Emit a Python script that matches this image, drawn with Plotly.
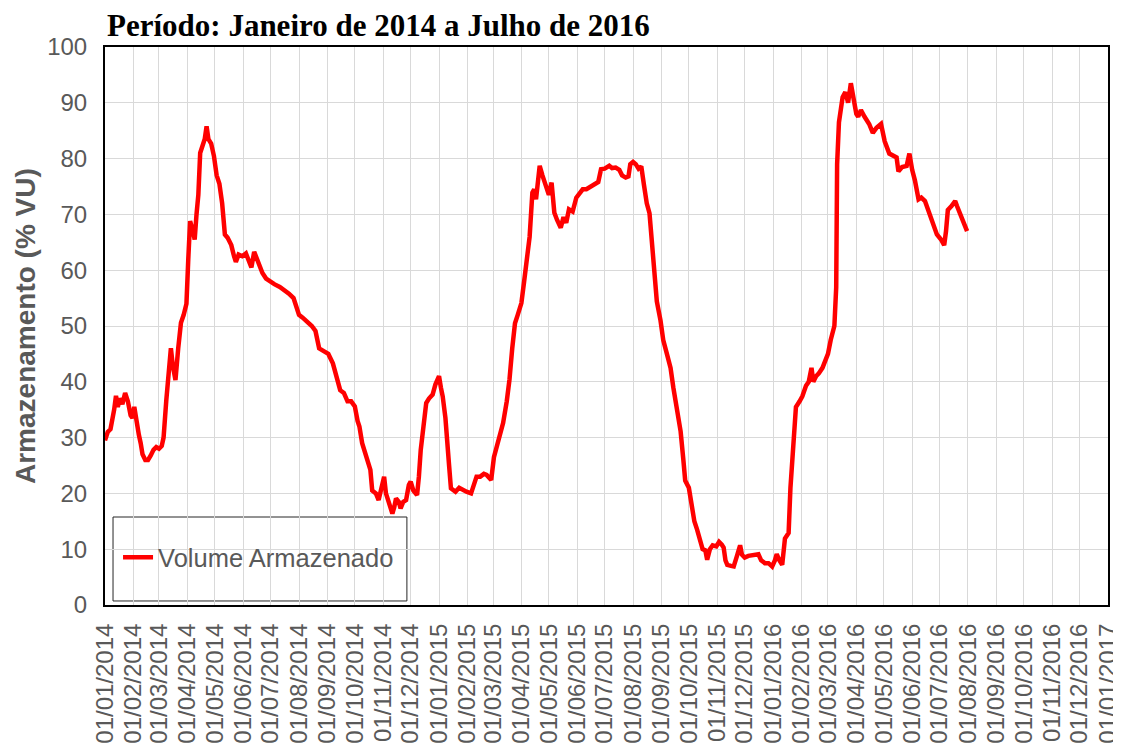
import plotly.graph_objects as go

# ---- data ----
dates = [
    "2014-01-01", "2014-01-04", "2014-01-07", "2014-01-09", "2014-01-11", "2014-01-13", "2014-01-15",
    "2014-01-17", "2014-01-20", "2014-01-23", "2014-01-26", "2014-01-29", "2014-01-31", "2014-02-02",
    "2014-02-04", "2014-02-07", "2014-02-09", "2014-02-11", "2014-02-14", "2014-02-17", "2014-02-20",
    "2014-02-23", "2014-02-26", "2014-03-01", "2014-03-04", "2014-03-06", "2014-03-09", "2014-03-12",
    "2014-03-14", "2014-03-16", "2014-03-19", "2014-03-22", "2014-03-25", "2014-03-28", "2014-03-31",
    "2014-04-02", "2014-04-04", "2014-04-07", "2014-04-09", "2014-04-11", "2014-04-13", "2014-04-15",
    "2014-04-18", "2014-04-20", "2014-04-22", "2014-04-24", "2014-04-27", "2014-04-30", "2014-05-03",
    "2014-05-06", "2014-05-09", "2014-05-12", "2014-05-15", "2014-05-19", "2014-05-22", "2014-05-24",
    "2014-05-27", "2014-05-31", "2014-06-04", "2014-06-08", "2014-06-10", "2014-06-13", "2014-06-16",
    "2014-06-19", "2014-06-22", "2014-06-26", "2014-06-30", "2014-07-05", "2014-07-11", "2014-07-16",
    "2014-07-21", "2014-07-26", "2014-08-01", "2014-08-05", "2014-08-10", "2014-08-15", "2014-08-19",
    "2014-08-23", "2014-08-28", "2014-09-02", "2014-09-07", "2014-09-11", "2014-09-15", "2014-09-19",
    "2014-09-23", "2014-09-27", "2014-10-01", "2014-10-04", "2014-10-06", "2014-10-09", "2014-10-11",
    "2014-10-15", "2014-10-18", "2014-10-20", "2014-10-24", "2014-10-27", "2014-10-30", "2014-11-02",
    "2014-11-04", "2014-11-08", "2014-11-11", "2014-11-13", "2014-11-15", "2014-11-18", "2014-11-20",
    "2014-11-23", "2014-11-26", "2014-11-29", "2014-12-01", "2014-12-04", "2014-12-08", "2014-12-10",
    "2014-12-12", "2014-12-15", "2014-12-18", "2014-12-21", "2014-12-25", "2014-12-28",
    "2015-01-01", "2015-01-03", "2015-01-05", "2015-01-08", "2015-01-10", "2015-01-12", "2015-01-14",
    "2015-01-17", "2015-01-19", "2015-01-23", "2015-01-27", "2015-01-31", "2015-02-05", "2015-02-08",
    "2015-02-11", "2015-02-15", "2015-02-19", "2015-02-22", "2015-02-27", "2015-03-02", "2015-03-05",
    "2015-03-09", "2015-03-12", "2015-03-16", "2015-03-19", "2015-03-22", "2015-03-25", "2015-03-28",
    "2015-04-01", "2015-04-04", "2015-04-08", "2015-04-10", "2015-04-13", "2015-04-15", "2015-04-17",
    "2015-04-19", "2015-04-21", "2015-04-24", "2015-04-28", "2015-05-01", "2015-05-04", "2015-05-07",
    "2015-05-10", "2015-05-14", "2015-05-17", "2015-05-20", "2015-05-23", "2015-05-27", "2015-05-31",
    "2015-06-03", "2015-06-07", "2015-06-11", "2015-06-16", "2015-06-21", "2015-06-24", "2015-06-27",
    "2015-07-01", "2015-07-06", "2015-07-09", "2015-07-13", "2015-07-17", "2015-07-20", "2015-07-24",
    "2015-07-27", "2015-07-29", "2015-08-01", "2015-08-04", "2015-08-07", "2015-08-10", "2015-08-13",
    "2015-08-16", "2015-08-19", "2015-08-22", "2015-08-25", "2015-08-27", "2015-08-31", "2015-09-03",
    "2015-09-07", "2015-09-11", "2015-09-14", "2015-09-16", "2015-09-19", "2015-09-22", "2015-09-25",
    "2015-09-27", "2015-10-01", "2015-10-05", "2015-10-07", "2015-10-10", "2015-10-13", "2015-10-16",
    "2015-10-19", "2015-10-21", "2015-10-24", "2015-10-27", "2015-10-31", "2015-11-03", "2015-11-06",
    "2015-11-08", "2015-11-10", "2015-11-12", "2015-11-16", "2015-11-19", "2015-11-22", "2015-11-26",
    "2015-11-28", "2015-12-01", "2015-12-05", "2015-12-10", "2015-12-16", "2015-12-19", "2015-12-23",
    "2015-12-27", "2015-12-31",
    "2016-01-03", "2016-01-05", "2016-01-08", "2016-01-11", "2016-01-14", "2016-01-18", "2016-01-20",
    "2016-01-23", "2016-01-26", "2016-01-30", "2016-02-02", "2016-02-06", "2016-02-09", "2016-02-12",
    "2016-02-14", "2016-02-17", "2016-02-20", "2016-02-24", "2016-02-27", "2016-03-01", "2016-03-04",
    "2016-03-08", "2016-03-10", "2016-03-11", "2016-03-13", "2016-03-15", "2016-03-17", "2016-03-20",
    "2016-03-23", "2016-03-26", "2016-03-30", "2016-04-01", "2016-04-03", "2016-04-06", "2016-04-10",
    "2016-04-15", "2016-04-19", "2016-04-23", "2016-04-28", "2016-05-02", "2016-05-07", "2016-05-11",
    "2016-05-15", "2016-05-17", "2016-05-21", "2016-05-26", "2016-05-29", "2016-06-01", "2016-06-04",
    "2016-06-08", "2016-06-11", "2016-06-15", "2016-06-18", "2016-06-21", "2016-06-25", "2016-06-28",
    "2016-07-03", "2016-07-06", "2016-07-08", "2016-07-10", "2016-07-14", "2016-07-18", "2016-07-20",
    "2016-07-23", "2016-07-27", "2016-07-31",
]

volume = [
    29.5, 31.0, 31.5, 33.0, 35.0, 37.5, 35.5,
    37.0, 36.0, 38.0, 36.5, 34.0, 33.5, 35.5,
    33.0, 30.5, 29.0, 27.0, 26.0, 26.0, 26.8,
    27.8, 28.3, 28.0, 28.5, 30.0, 36.7, 43.0,
    46.0, 43.0, 40.3, 46.0, 50.6, 52.0, 54.0,
    62.0, 68.8, 67.0, 65.5, 70.0, 73.5, 81.0,
    83.0, 83.5, 85.8, 83.5, 82.7, 80.5, 77.0,
    75.5, 72.0, 66.4, 65.8, 64.5, 62.5, 61.5,
    62.8, 62.5, 63.0, 61.0, 60.5, 63.3, 62.0,
    60.5, 59.5, 58.5, 58.0, 57.5, 57.0, 56.5,
    55.8, 55.0, 52.0, 51.5, 50.8, 50.0, 49.1,
    46.0, 45.5, 45.0, 43.3, 41.0, 38.5, 38.0,
    36.5, 36.5, 35.6, 33.0, 32.0, 29.0, 27.8,
    25.5, 24.2, 20.5, 20.0, 18.8, 21.0, 23.0,
    20.0, 18.0, 16.4, 17.5, 19.1, 18.5, 17.3,
    18.5, 18.8, 21.5, 22.1, 20.5, 19.7, 23.0,
    27.8, 32.0, 36.2, 37.0, 37.7, 39.5,
    41.0, 39.0, 37.4, 33.5, 30.2, 25.0, 20.9,
    20.5, 20.3, 21.0, 20.6, 20.3, 20.0, 21.5,
    23.0, 23.0, 23.5, 23.3, 22.4, 26.5, 28.4,
    30.5, 32.6, 36.5, 40.4, 46.0, 50.5, 52.0,
    54.1, 58.0, 62.5, 66.0, 73.9, 74.5, 72.7,
    76.0, 78.7, 77.0, 75.1, 73.5, 75.7, 70.3,
    69.0, 67.6, 69.5, 68.5, 70.9, 70.5, 73.0,
    73.8, 74.5, 74.5, 75.0, 75.4, 75.8, 78.1,
    78.2, 78.7, 78.3, 78.4, 78.0, 77.0, 76.6,
    76.8, 79.0, 79.4, 79.0, 78.2, 78.6, 75.2,
    72.0, 70.2, 63.2, 57.5, 54.4, 51.0, 47.5,
    45.0, 42.5, 39.0, 36.8, 34.0, 31.1, 26.0,
    22.3, 21.0, 17.3, 15.0, 13.5, 12.0, 10.0,
    9.8, 8.1, 10.0, 10.7, 10.5, 11.3, 10.8,
    10.3, 8.0, 7.2, 7.0, 6.9, 8.5, 10.7,
    9.0, 8.5, 8.8, 9.0, 9.1, 8.0, 7.5,
    7.5, 6.9,
    8.0, 9.1, 8.0, 7.2, 11.9, 12.9, 21.0,
    28.0, 35.5, 36.5, 37.4, 39.3, 40.0, 42.5,
    40.0, 41.0, 41.5, 42.5, 43.7, 45.0, 47.5,
    50.0, 56.9, 79.0, 86.5, 89.5, 91.0, 91.9,
    90.0, 93.5, 90.0, 88.0, 87.5, 88.7, 87.5,
    86.2, 84.6, 85.5, 86.2, 83.1, 80.9, 80.5,
    80.2, 77.7, 78.5, 78.7, 80.9, 78.0, 76.1,
    72.7, 73.0, 72.4, 71.0, 69.5, 68.0, 66.4,
    65.4, 64.5, 67.0, 70.8, 71.5, 72.4, 71.5,
    70.2, 68.5, 67.0,
]

series_name = "Volume Armazenado"
title_text = "Período: Janeiro de 2014 a Julho de 2016"
y_title = "Armazenamento (% VU)"
x_range = ["2014-01-01", "2017-01-01"]
y_ticks = [0, 10, 20, 30, 40, 50, 60, 70, 80, 90, 100]

GRAY = "#595959"
SANS = "Liberation Sans, Arial, sans-serif"
SERIF = "Liberation Serif, Times New Roman, serif"

fig = go.Figure()
fig.add_trace(go.Scatter(
    x=dates, y=volume, mode="lines", name=series_name,
    line=dict(color="#FF0000", width=4.5),
))

fig.update_layout(
    width=1113, height=743,
    margin=dict(l=97, r=13, t=39, b=146, autoexpand=False),
    paper_bgcolor="white", plot_bgcolor="white",
    showlegend=True,
    legend=dict(
        x=0.013, y=0.0848, xanchor="left", yanchor="middle",
        bgcolor="rgba(0,0,0,0)", borderwidth=0,
        font=dict(family=SANS, size=25.5, color=GRAY),
    ),
    shapes=[dict(
        type="rect", xref="paper", yref="paper",
        x0=0.008, x1=0.301, y0=0.0072, y1=0.1577,
        line=dict(color="#262626", width=1), fillcolor="white", layer="between",
    )],
    annotations=[
        dict(text=title_text, xref="paper", yref="paper", x=0, y=1,
             xanchor="left", yanchor="bottom", xshift=0, yshift=2, showarrow=False,
             font=dict(family=SERIF, size=31, color="black", weight="bold")),
        dict(text=y_title, xref="paper", yref="paper", x=0, y=0.5,
             xanchor="center", yanchor="middle", xshift=-80, textangle=-90, showarrow=False,
             font=dict(family=SANS, size=28, color=GRAY, weight="bold")),
    ],
)

fig.update_xaxes(
    type="date", range=x_range, dtick="M1", tick0="2014-01-01",
    tickformat="%d/%m/%Y", tickangle=-90,
    tickfont=dict(family=SANS, size=24, color=GRAY),
    ticklabelstandoff=7, automargin=False,
    showgrid=True, gridcolor="#d9d9d9", gridwidth=1,
    showline=True, linecolor="black", linewidth=2, mirror=True,
    ticks="", zeroline=False,
)
fig.update_yaxes(
    range=[0, 100], tickvals=y_ticks,
    tickfont=dict(family=SANS, size=24, color=GRAY),
    ticklabelstandoff=11, automargin=False,
    showgrid=True, gridcolor="#d9d9d9", gridwidth=1,
    showline=True, linecolor="black", linewidth=2, mirror=True,
    ticks="", zeroline=False,
)

fig.write_html("out.html")
